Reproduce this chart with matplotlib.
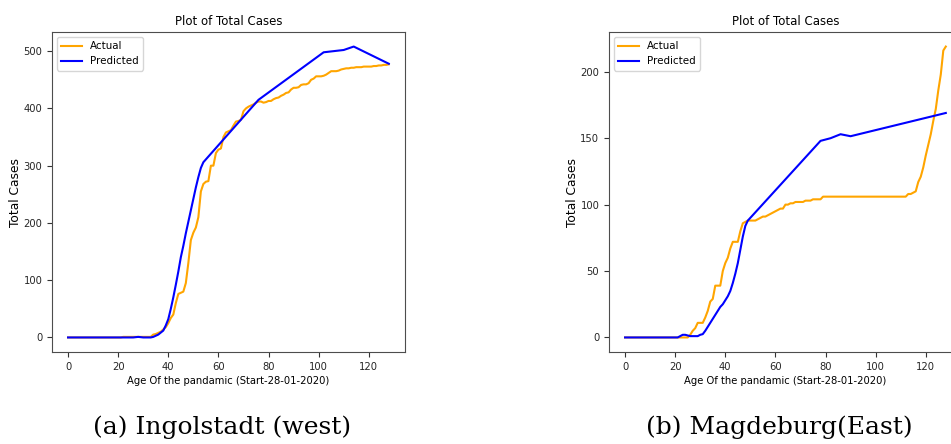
import matplotlib
matplotlib.use("Agg")
import matplotlib.pyplot as plt

# Ingolstadt (west)
ing_days = list(range(0, 129))
ing_actual = (
    [0] * 22 + [1] * 12
    + [5, 6, 8, 10, 14, 18, 25, 34, 40, 60, 76, 78, 80, 95, 130, 170, 183,
       192, 210, 255, 268, 272, 273, 300, 300, 322, 328, 330, 350, 358, 360,
       362, 370, 377, 378, 380, 395, 400, 403, 405, 407, 410, 412, 412, 410,
       411, 413, 413, 416, 418, 419, 422, 424, 427, 428, 433, 436, 436, 437,
       441, 442, 442, 444, 450, 452, 456, 456, 456, 457, 459, 462, 465, 465,
       465, 466, 468, 469, 470, 470, 471, 471, 472, 472, 472, 473, 473, 473,
       473, 474, 474, 475, 475, 476, 476, 477]
)
ing_pred_days = [0, 26, 28, 30, 33, 34, 36, 38, 39, 40, 41, 42, 43, 44, 45,
                 46, 47, 48, 49, 50, 51, 52, 53, 54, 76, 102, 110, 114, 128]
ing_pred = [0, 0, 1, 0, 0, 1, 5, 12, 21, 32, 50, 70, 92, 115, 140, 160,
            182, 202, 222, 242, 262, 280, 296, 306, 415, 498, 502, 508, 478]

# Magdeburg (East)
mag_days = list(range(0, 129))
mag_actual = (
    [0] * 26
    + [2, 5, 7, 11, 11, 11, 15, 20, 27, 29, 39, 39, 39, 50, 56, 60, 67, 72,
       72, 72, 80, 86, 87, 88, 88, 88, 88, 89, 90, 91, 91, 92, 93, 94, 95, 96,
       97, 97, 100, 100, 101, 101, 102, 102, 102, 102, 103, 103, 103, 104, 104,
       104, 104]
    + [106] * 34
    + [108, 108, 109, 110, 117, 121, 128, 137, 145, 153, 163, 172, 186, 198,
       216, 219]
)
mag_pred_days = [0, 21, 23, 24, 25, 26, 29, 30, 31, 32, 33, 34, 35, 36, 37,
                 38, 39, 40, 41, 42, 43, 44, 45, 46, 47, 48, 49, 78, 82, 86,
                 90, 128]
mag_pred = [0, 0, 2, 2, 1.5, 1, 1, 2, 2.5, 5, 8, 11, 14, 17, 20, 23, 25,
            28, 31, 35, 41, 48, 56, 66, 76, 84, 88, 148, 150, 153, 151.5, 169]

fs = 7.2
fig = plt.figure(figsize=(9.51, 4.44), dpi=100)

panels = [
    (0.0547, ing_days, ing_actual, ing_pred_days, ing_pred,
     [0, 100, 200, 300, 400, 500], "(a) Ingolstadt (west)", 0.233),
    (0.6404, mag_days, mag_actual, mag_pred_days, mag_pred,
     [0, 50, 100, 150, 200], "(b) Magdeburg(East)", 0.819),
]

for left, d, act, pd_, pred, yt, caption, cx in panels:
    ax = fig.add_axes([left, 0.2072, 0.371, 0.7207])
    ax.plot(d, act, color="orange", lw=1.5, label="Actual")
    ax.plot(pd_, pred, color="blue", lw=1.5, label="Predicted")
    ax.set_xticks([0, 20, 40, 60, 80, 100, 120])
    ax.set_yticks(yt)
    ax.tick_params(labelsize=fs, length=3.5, color="0.2", labelcolor="0.15")
    for s in ax.spines.values():
        s.set_color("0.3")
    ax.set_title("Plot of Total Cases", fontsize=8.5, pad=5)
    ax.set_xlabel("Age Of the pandamic (Start-28-01-2020)", fontsize=fs,
                  labelpad=3)
    ax.set_ylabel("Total Cases", fontsize=8.8, labelpad=1)
    ax.legend(loc="upper left", fontsize=7.4)
    fig.text(cx, 0.038, caption, ha="center", va="center",
             fontsize=18, family="DejaVu Serif")

fig.savefig("out.png", dpi=100)
